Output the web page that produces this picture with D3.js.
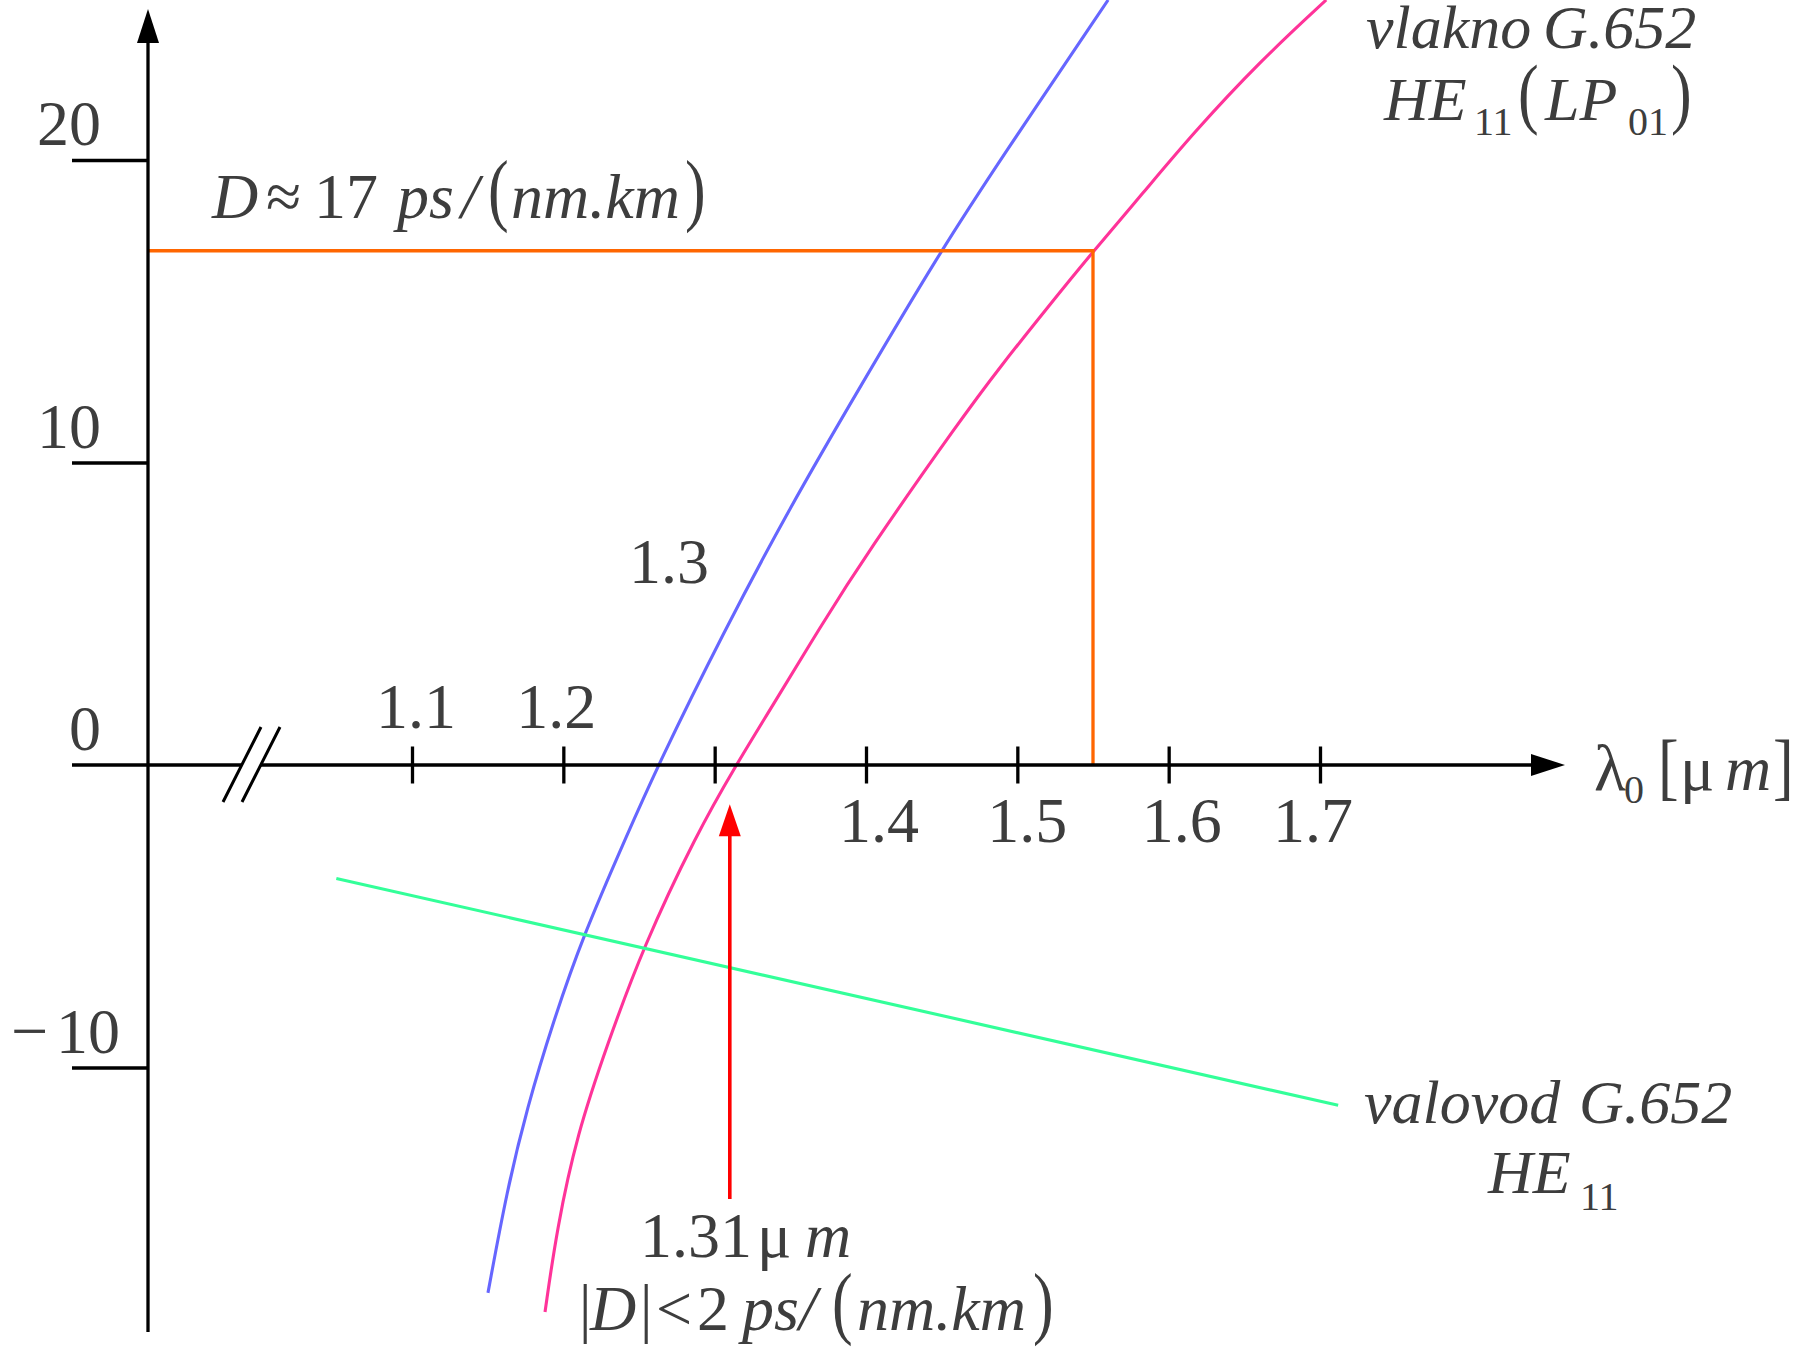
<!DOCTYPE html>
<html>
<head>
<meta charset="utf-8">
<script src="https://cdn.jsdelivr.net/npm/d3@7"></script>
<style>
  html, body { margin: 0; padding: 0; background: #fff; }
  svg { display: block; }
  text { font-family: "Liberation Serif", "Times New Roman", serif; fill: #3d3d3d; }
</style>
</head>
<body>
<svg id="chart" width="1798" height="1347"></svg>
<script>
// ---- Axis ticks -------------------------------------------------------
const xTicks = [1.1, 1.2, 1.3, 1.4, 1.5, 1.6, 1.7];          // wavelength, µm
const xTickLabels = ["1.1", "1.2", "1.3", "1.4", "1.5", "1.6", "1.7"];
const yTicks = [20, 10, 0, -10];                              // D, ps/(nm·km)
const yTickLabels = ["20", "10", "0", "10"];

// ---- Material dispersion (blue) ----------------------------------------
const materialLambda = [1.1502, 1.1628, 1.1760, 1.1932, 1.2130, 1.2421, 1.2626,
                        1.3056, 1.3498, 1.3961, 1.4477, 1.4886, 1.5600];
const materialD      = [-17.45, -14.05, -11.34, -8.50, -5.65, -2.31, 0,
                        4.36, 8.53, 12.50, 16.86, 20.0, 25.29];

// ---- Fibre G.652 total dispersion, HE11 (LP01) (pink) -------------------
const fiberLambda = [1.1879, 1.1958, 1.2091, 1.2289, 1.2527, 1.2877, 1.3141,
                     1.3373, 1.3697, 1.4007, 1.4622, 1.4886, 1.5197, 1.5481,
                     1.5831, 1.6162, 1.6605, 1.7041];
const fiberD      = [-18.08, -15.31, -12.20, -9.26, -6.02, -2.31, 0,
                     1.88, 4.56, 7.01, 11.40, 13.16, 15.11, 16.86,
                     18.91, 20.89, 23.27, 25.29];

// ---- Waveguide dispersion G.652, HE11 (green) ---------------------------
const waveguideLambda = [1.050, 1.712];
const waveguideD      = [-3.75, -11.25];

// ---- Annotations --------------------------------------------------------
const dispersion1550 = [1.55, 17];           // λ, D  -> "D ≈ 17 ps/(nm.km)"
const zeroDispersion = [1.31, -1.3, -14.35]; // λ, arrow tip D, arrow tail D

// ---- Layout -------------------------------------------------------------
const axisX = 148;
const xTickNudge = [4, -7, 0, 13, 10, 13, -7];

const svg = d3.select("#chart");

const x = d3.scaleLinear().domain([1.1, 1.7]).range([412, 1320]);
const y = d3.scaleLinear().domain([-10, 20]).range([1067.5, 160]);
const y0 = y(0);

// ---- Curves -------------------------------------------------------------
const smooth = d3.line()
  .x(d => x(d[0]))
  .y(d => y(d[1]))
  .curve(d3.curveBasis);

svg.append("path")
  .datum(d3.zip(materialLambda, materialD))
  .attr("d", smooth)
  .attr("fill", "none")
  .attr("stroke", "#6666ff")
  .attr("stroke-width", 3.1);

svg.append("path")
  .datum(d3.zip(fiberLambda, fiberD))
  .attr("d", smooth)
  .attr("fill", "none")
  .attr("stroke", "#ff3399")
  .attr("stroke-width", 3.1);

svg.append("path")
  .datum(d3.zip(waveguideLambda, waveguideD))
  .attr("d", d3.line().x(d => x(d[0])).y(d => y(d[1])))
  .attr("fill", "none")
  .attr("stroke", "#33ff99")
  .attr("stroke-width", 3.1);

// Orange guide to the 1.55 µm operating point
svg.append("path")
  .attr("d", `M${axisX},${y(dispersion1550[1])}H${x(dispersion1550[0])}V${y0}`)
  .attr("fill", "none")
  .attr("stroke", "#ff6600")
  .attr("stroke-width", 3.3);

// ---- Axes ---------------------------------------------------------------
const axisStroke = 3.3;

// x axis line with a break
svg.append("path")
  .attr("d", `M72,${y0}H242M261,${y0}H1534`)
  .attr("stroke", "#000").attr("stroke-width", axisStroke).attr("fill", "none");
svg.append("path")
  .attr("d", `M223,802L261,727M242,802L280,727`)
  .attr("stroke", "#000").attr("stroke-width", 3).attr("fill", "none");
svg.append("path")
  .attr("d", `M1531,${y0 - 11}L1565,${y0}L1531,${y0 + 11}Z`)
  .attr("fill", "#000");

// y axis line
svg.append("path")
  .attr("d", `M${axisX},40V1332`)
  .attr("stroke", "#000").attr("stroke-width", axisStroke).attr("fill", "none");
svg.append("path")
  .attr("d", `M${axisX - 11},43L${axisX},9L${axisX + 11},43Z`)
  .attr("fill", "#000");

const gx = svg.append("g")
  .attr("transform", `translate(0,${y0})`)
  .call(d3.axisBottom(x).tickValues(xTicks).tickSize(18.5).tickFormat(""));
gx.select(".domain").remove();
gx.selectAll(".tick line")
  .attr("y1", -18.5).attr("y2", 18.5)
  .attr("stroke", "#000").attr("stroke-width", axisStroke);

const gy = svg.append("g")
  .attr("transform", `translate(${axisX},0)`)
  .call(d3.axisLeft(y).tickValues(yTicks.filter(v => v !== 0)).tickSize(76).tickFormat(""));
gy.select(".domain").remove();
gy.selectAll(".tick line")
  .attr("stroke", "#000").attr("stroke-width", axisStroke);

// ---- Text helpers -------------------------------------------------------
function txt(str, px, py, size, italic, anchor) {
  return svg.append("text")
    .attr("x", px).attr("y", py)
    .attr("font-size", size)
    .attr("font-style", italic ? "italic" : "normal")
    .attr("text-anchor", anchor || "start")
    .text(str);
}
// tall, thin delimiters (parentheses, brackets, bars)
function tall(str, px, py, size, sy) {
  return svg.append("text")
    .attr("transform", `translate(${px},${py}) scale(1,${sy})`)
    .attr("font-size", size)
    .text(str);
}

// y tick labels
yTicks.forEach((v, i) => {
  const ty = y(v) - 15;
  if (v < 0) {
    txt(yTickLabels[i], 120, ty, 64, false, "end");
    txt("\u2212", 11, ty, 66, false, "start");
  } else {
    txt(yTickLabels[i], 101, ty, 64, false, "end");
  }
});

// x tick labels: 1.1 and 1.2 above the axis, 1.3 up in the plot, rest below
xTicks.forEach((v, i) => {
  const cx = x(v) + xTickNudge[i];
  if (v < 1.25) txt(xTickLabels[i], cx, 728, 64, false, "middle");
  else if (v < 1.35) txt(xTickLabels[i], 669, 583, 64, false, "middle");
  else txt(xTickLabels[i], cx, 842, 64, false, "middle");
});

// axis title λ0[µm]
txt("\u03bb", 1594, 790, 66, false);
txt("0", 1624, 803, 40, false);
tall("[", 1658, 791, 62, 1.21);
txt("\u03bc", 1680, 790, 64, false);
txt("m", 1725, 790, 64, true);
tall("]", 1773, 791, 62, 1.21);

// D ≈ 17 ps/(nm.km)
txt("D", 212, 218, 64, true);
txt("\u2248", 266, 218, 64, false);
txt("17", 314, 218, 64, false);
txt("ps", 397, 218, 64, true);
txt("/", 461, 218, 64, true);
tall("(", 488, 216, 62, 1.28);
txt("nm.km", 511, 218, 64, true);
tall(")", 685, 216, 62, 1.28);

// vlakno G.652 / HE11(LP01)
txt("vlakno", 1366, 48, 62, true);
txt("G.652", 1543, 48, 62, true);
txt("HE", 1384, 120, 62, true);
txt("11", 1474, 135, 40, false);
tall("(", 1518, 119, 62, 1.26);
txt("LP", 1545, 120, 62, true);
txt("01", 1628, 135, 40, false);
tall(")", 1671, 119, 62, 1.26);

// valovod G.652 / HE11
txt("valovod", 1364, 1123, 62, true);
txt("G.652", 1579, 1123, 62, true);
txt("HE", 1488, 1193, 62, true);
txt("11", 1580, 1210, 40, false);

// zero-dispersion arrow
const ax = x(zeroDispersion[0]);
const tipY = y(zeroDispersion[1]);
svg.append("line")
  .attr("x1", ax).attr("x2", ax)
  .attr("y1", tipY + 30).attr("y2", y(zeroDispersion[2]))
  .attr("stroke", "#ff0000").attr("stroke-width", 3.6);
svg.append("path")
  .attr("d", `M${ax - 11},${tipY + 32}L${ax},${tipY}L${ax + 11},${tipY + 32}Z`)
  .attr("fill", "#ff0000");

// 1.31 µm / |D| < 2 ps/(nm.km)
txt("1.31", 640, 1257, 64, false);
txt("\u03bc", 757, 1257, 64, false);
txt("m", 805, 1257, 64, true);

tall("|", 579, 1330, 62, 1.05);
txt("D", 590, 1330, 64, true);
tall("|", 640, 1330, 62, 1.05);
txt("<", 656, 1330, 64, false);
txt("2", 697, 1330, 64, false);
txt("ps", 742, 1330, 64, true);
txt("/", 799, 1330, 64, true);
tall("(", 832, 1329, 62, 1.28);
txt("nm.km", 857, 1330, 64, true);
tall(")", 1033, 1329, 62, 1.28);
</script>
</body>
</html>
